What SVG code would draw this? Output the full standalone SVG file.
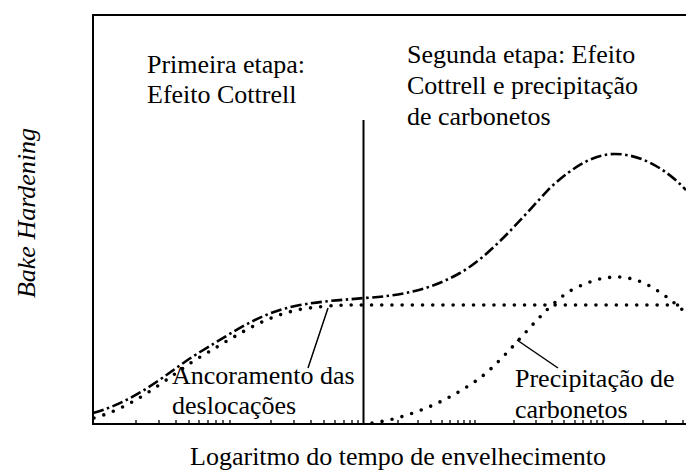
<svg xmlns="http://www.w3.org/2000/svg" width="686" height="471" viewBox="0 0 686 471">
<style>
.ax{stroke:#000;stroke-width:2;fill:none}
.dd{stroke:#000;stroke-width:2.6;fill:none;stroke-dasharray:11 3.5 2.5 3.5}
.dot{stroke:#000;stroke-width:3.6;fill:none;stroke-linecap:round;stroke-dasharray:0 10.2}
.ld{stroke:#000;stroke-width:1.5;fill:none}
.tk{stroke:#000;stroke-width:1.3}
</style>
<rect width="686" height="471" fill="#fff"/>
<g id="frame">
<path class="ax" d="M686,15 H93 V424 H686"/>
<line class="ax" x1="363.5" y1="120" x2="363.5" y2="424" stroke-width="1.6"/>
<g class="tk">
<path d="M136,424v-4M159,424v-4M176,424v-4M189,424v-4M199,424v-4M208,424v-4M216,424v-4M223,424v-4M230,424v-4M271,424v-4M294,424v-4M311,424v-4M324,424v-4M335,424v-4M344,424v-4M352,424v-4M358,424v-4M398,424v-4M418,424v-4M431,424v-4M442,424v-4M450,424v-4M458,424v-4M464,424v-4M470,424v-4M475,424v-4M514,424v-4M536,424v-4M552,424v-4M564,424v-4M575,424v-4M583,424v-4M591,424v-4M597,424v-4M603,424v-4M643,424v-4M666,424v-4M683,424v-4"/>
</g>
</g>
<g id="connectors">
<path id="curve-total" class="dd" d="M93,413 C140,400 170,370 200,352 C240,328 260,313 300,305 C330,300 345,300 364,298 C400,296 430,290 460,273 C490,256 520,220 550,188 C575,165 595,154 615,154 C640,154 665,168 686,190"/>
<path id="curve-cottrell" class="dot" d="M94,418 C140,405 172,373 202,356 C242,332 266,316 302,309 C330,305 345,305 364,305 L686,305"/>
<path id="curve-precip" class="dot" d="M372,423 C410,418 450,400 480,378 C510,355 540,310 570,291 C590,280 605,277 617,277 C640,277 660,290 686,313"/>
<line class="ld" x1="328" y1="308" x2="308" y2="368"/>
<line class="ld" x1="517" y1="340" x2="558" y2="368"/>
</g>
<g font-family="Liberation Serif, Times New Roman, serif" font-size="26" fill="#000">
<g id="label-stage1">
<text x="147" y="73">Primeira etapa:</text>
<text x="147" y="103">Efeito Cottrell</text>
</g>
<g id="label-stage2">
<text x="407" y="63">Segunda etapa: Efeito</text>
<text x="407" y="94">Cottrell e precipitação</text>
<text x="407" y="125">de carbonetos</text>
</g>
<g id="label-ancoramento">
<text x="172" y="384">Ancoramento das</text>
<text x="172" y="414">deslocações</text>
</g>
<g id="label-precipitacao">
<text x="515" y="387">Precipitação de</text>
<text x="515" y="418">carbonetos</text>
</g>
<g id="axis-labels">
<text x="398" y="465" text-anchor="middle">Logaritmo do tempo de envelhecimento</text>
<text transform="translate(35,213) rotate(-90)" text-anchor="middle" font-style="italic">Bake Hardening</text>
</g>
</g>
</svg>
